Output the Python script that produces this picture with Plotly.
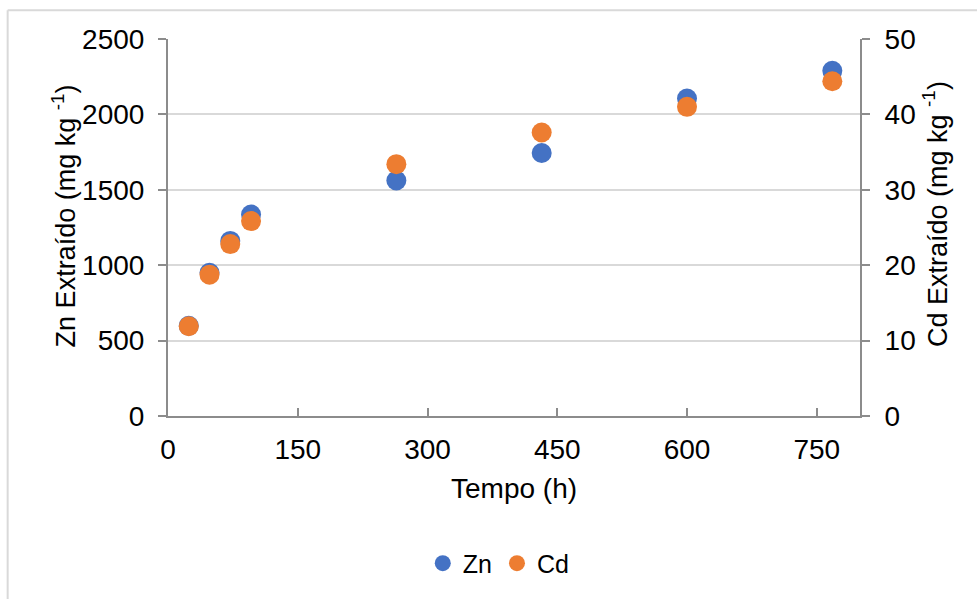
import plotly.graph_objects as go

# Extraction time (h)
tempo = [24, 48, 72, 96, 264, 432, 600, 768]
# Extracted zinc (mg/kg)
zn = [598, 950, 1161, 1336, 1562, 1744, 2105, 2289]
# Extracted cadmium (mg/kg)
cd = [11.9, 18.75, 22.8, 25.85, 33.4, 37.6, 41.0, 44.4]

x_ticks = [0, 150, 300, 450, 600, 750]
zn_ticks = [0, 500, 1000, 1500, 2000, 2500]
cd_ticks = [0, 10, 20, 30, 40, 50]

x_title = "Tempo (h)"
zn_title = "Zn Extraído (mg kg <sup>-1</sup>)"
cd_title = "Cd Extraído (mg kg <sup>-1</sup>)"

FONT = "Liberation Sans, Arial, sans-serif"
AXIS_COLOR = "#8c8c8c"
GRID_COLOR = "#d9d9d9"
TICK_FONT = dict(family=FONT, size=28, color="#000000")
TITLE_FONT = dict(family=FONT, size=28, color="#000000")
Y_TITLE_FONT = dict(family=FONT, size=27, color="#000000")

fig = go.Figure()
fig.add_trace(go.Scatter(
    x=tempo, y=zn, name="Zn", mode="markers",
    marker=dict(color="#4472C4", size=20), yaxis="y",
))
fig.add_trace(go.Scatter(
    x=tempo, y=cd, name="Cd", mode="markers",
    marker=dict(color="#ED7D31", size=20), yaxis="y2",
))

axis_common = dict(
    tickcolor=AXIS_COLOR, tickwidth=2, ticklen=8, tickfont=TICK_FONT,
    automargin=False, showline=True, linecolor=AXIS_COLOR, linewidth=2,
    zeroline=False,
)

fig.update_layout(
    width=977, height=599,
    margin=dict(l=168, r=117, t=39, b=180),
    paper_bgcolor="white", plot_bgcolor="white",
    font=dict(family=FONT, size=25, color="#000000"),
    showlegend=True,
    legend=dict(
        orientation="h", x=0.478, xanchor="center", y=-0.33, yanchor="top",
        font=dict(family=FONT, size=25, color="#000000"),
        itemwidth=30, tracegroupgap=0,
    ),
    xaxis=dict(
        range=[0, 800], tickvals=x_ticks, ticks="inside",
        ticklabelstandoff=7, showgrid=False, **axis_common,
    ),
    yaxis=dict(
        range=[0, 2500], tickvals=zn_ticks, ticks="outside",
        ticklabelstandoff=8, showgrid=True, gridcolor=GRID_COLOR, gridwidth=2,
        **axis_common,
    ),
    yaxis2=dict(
        range=[0, 50], tickvals=cd_ticks, ticks="outside",
        ticklabelstandoff=9, overlaying="y", side="right", showgrid=False,
        **axis_common,
    ),
    annotations=[
        dict(text=x_title, xref="paper", yref="paper", x=0.5, y=-0.191,
             xanchor="center", yanchor="middle", showarrow=False,
             font=TITLE_FONT),
        dict(text=zn_title, xref="paper", yref="paper", x=-0.150, y=0.53,
             xanchor="center", yanchor="middle", showarrow=False,
             textangle=-90, font=Y_TITLE_FONT),
        dict(text=cd_title, xref="paper", yref="paper", x=1.1094, y=0.535,
             xanchor="center", yanchor="middle", showarrow=False,
             textangle=-90, font=Y_TITLE_FONT),
    ],
    shapes=[
        dict(type="line", xref="paper", yref="paper",
             x0=-0.2317, x1=1.2, y0=1.076, y1=1.076,
             line=dict(color=GRID_COLOR, width=2)),
        dict(type="line", xref="paper", yref="paper",
             x0=-0.2317, x1=-0.2317, y0=1.076, y1=-0.5,
             line=dict(color=GRID_COLOR, width=2)),
    ],
)

fig.write_html("out.html")
